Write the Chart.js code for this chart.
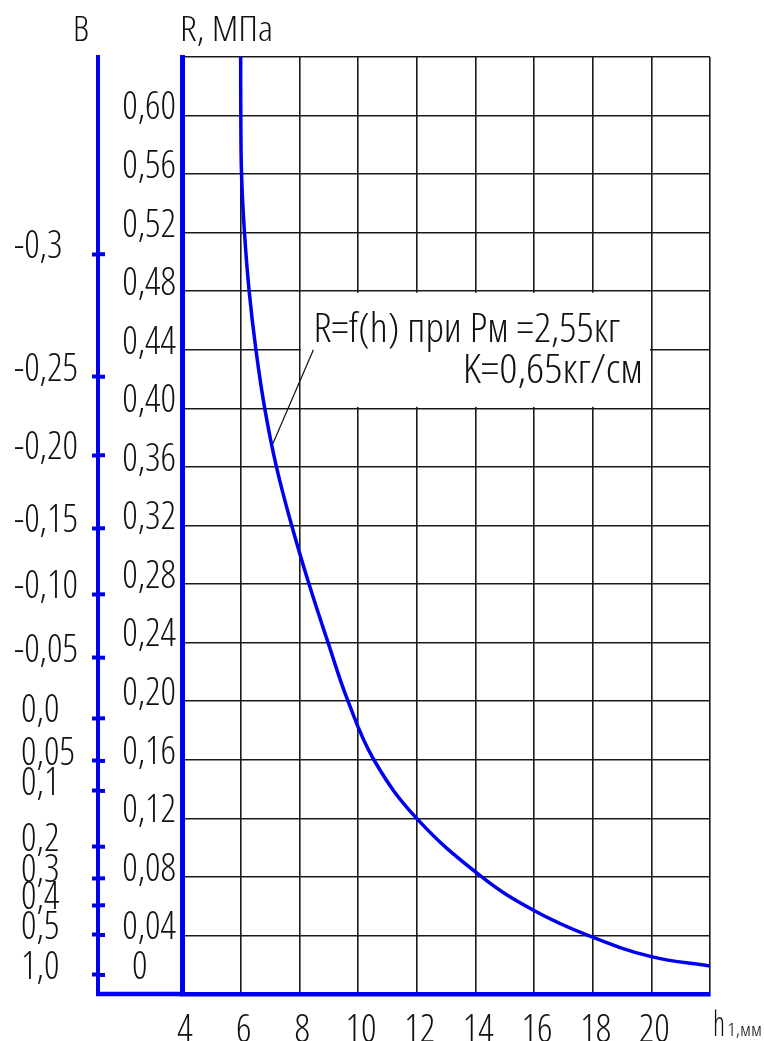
<!DOCTYPE html>
<html><head><meta charset="utf-8">
<script src="https://cdn.jsdelivr.net/npm/chart.js@4"></script>
<style>html,body{margin:0;padding:0;background:#fff;}#wrap{width:764px;height:1041px;}</style>
</head><body><div id="wrap"><canvas id="c" width="764" height="1041"></canvas></div>
<script>
// ---- data ----
const hValues = [6.00, 6.005, 6.03, 6.13, 6.29, 6.52, 6.82, 7.22, 7.74, 8.33, 8.98, 9.66, 10.54, 12.0, 14.22, 16.0, 17.84, 20.0, 22.0];
const rValues = [0.64, 0.60, 0.56, 0.52, 0.48, 0.44, 0.40, 0.36, 0.32, 0.28, 0.24, 0.20, 0.16, 0.12, 0.08, 0.057, 0.04, 0.0255, 0.0191];
const xTickLabels = ['4', '6', '8', '10', '12', '14', '16', '18', '20', ''];
const rTickLabels = ['0', '0,04', '0,08', '0,12', '0,16', '0,20', '0,24', '0,28', '0,32', '0,36', '0,40', '0,44', '0,48', '0,52', '0,56', '0,60', ''];
// B scale: position of each B mark expressed on the R scale
const bTickPositions = [0.0130, 0.0403, 0.0606, 0.0790, 0.1006, 0.1387, 0.1592, 0.1883, 0.2297, 0.2730, 0.3181, 0.3680, 0.4216, 0.5053];
const bTickLabels = ['1,0', '0,5', '0,4', '0,3', '0,2', '0,1', '0,05', '0,0', '-0,05', '-0,10', '-0,15', '-0,20', '-0,25', '-0,3'];
const leaderH = [8.48, 7.10];
const leaderR = [0.440, 0.376];
const noteLine1 = 'R=f(h) при Рм =2,55кг';
const noteLine2 = 'K=0,65кг/см';

// ---- styling ----
const FAMILY = "'Open Sans'";
const WEIGHT = '300 condensed';
const BLUE = '#0000ee';
const INK = '#111111';
const tickFont = {family: FAMILY, size: 38, weight: WEIGHT, lineHeight: 1.0};

function drawFitted(ctx, text, x1, x2, baseline, size) {
  ctx.save();
  ctx.font = WEIGHT + ' ' + size + 'px ' + FAMILY;
  ctx.fillStyle = INK;
  ctx.textAlign = 'left';
  ctx.textBaseline = 'alphabetic';
  const w = ctx.measureText(text).width;
  ctx.translate(x1, baseline);
  ctx.scale((x2 - x1) / w, 1);
  ctx.fillText(text, 0, 0);
  ctx.restore();
}

const extras = {
  id: 'extras',
  beforeDatasetsDraw(chart) {
    const {ctx, scales: {x, y}} = chart;
    const l = x.getPixelForValue(8), r = x.getPixelForValue(20);
    const t = y.getPixelForValue(0.48), b = y.getPixelForValue(0.40);
    ctx.save();
    ctx.fillStyle = '#ffffff';
    ctx.fillRect(l + 1.5, t + 1.5, r - l - 3, b - t - 3);
    ctx.restore();
  },
  afterDraw(chart) {
    const {ctx, chartArea, scales: {x, y, yB}} = chart;
    ctx.save();
    ctx.strokeStyle = BLUE;
    ctx.lineWidth = 4.5;
    ctx.beginPath();
    ctx.moveTo(yB.right - 2, chartArea.bottom);
    ctx.lineTo(chartArea.left, chartArea.bottom);
    ctx.stroke();
    // short blue stubs to the right of the B axis, continuing its tick marks
    ctx.lineWidth = 4;
    bTickPositions.forEach(v => {
      const py = yB.getPixelForValue(v);
      ctx.beginPath();
      ctx.moveTo(yB.right, py);
      ctx.lineTo(yB.right + 7, py);
      ctx.stroke();
    });
    ctx.restore();
    drawFitted(ctx, 'B', yB.right - 25, yB.right - 9, 41, 34);
    drawFitted(ctx, 'R, МПа', chartArea.left - 2, chartArea.left + 91, 41, 34);
    const hx = chartArea.right + 3;
    drawFitted(ctx, 'h', hx, hx + 12, 1036, 34);
    drawFitted(ctx, '1,мм', hx + 14, 762, 1036, 18);
    drawFitted(ctx, noteLine1, x.getPixelForValue(8.48), x.getPixelForValue(18.93), y.getPixelForValue(0.4456), 41);
    drawFitted(ctx, noteLine2, x.getPixelForValue(13.57), x.getPixelForValue(19.72), y.getPixelForValue(0.417), 41);
  }
};

new Chart(document.getElementById('c'), {
  type: 'scatter',
  data: {
    datasets: [
      {
        data: hValues.map((h, i) => ({x: h, y: rValues[i]})),
        showLine: true,
        borderColor: BLUE,
        borderWidth: 3.5,
        pointRadius: 0,
        tension: 0.4,
        fill: false
      },
      {
        data: leaderH.map((h, i) => ({x: h, y: leaderR[i]})),
        showLine: true,
        borderColor: INK,
        borderWidth: 1.2,
        pointRadius: 0,
        fill: false
      }
    ]
  },
  plugins: [extras],
  options: {
    responsive: false,
    animation: false,
    devicePixelRatio: 1,
    layout: {padding: {left: 14, right: 54, top: 57, bottom: 0}},
    plugins: {legend: {display: false}, tooltip: {enabled: false}},
    scales: {
      x: {
        type: 'linear', position: 'bottom', min: 4, max: 22,
        afterFit: s => { s.height = 47; },
        ticks: {
          stepSize: 2, autoSkip: false, maxRotation: 0, padding: 18, labelOffset: 3,
          color: INK, font: tickFont,
          callback: (v, i) => xTickLabels[i]
        },
        grid: {
          drawTicks: false, lineWidth: 1.6,
          color: c => (c.tick && c.tick.value === 4) ? 'rgba(0,0,0,0)' : '#1a1a1a'
        },
        border: {display: true, color: BLUE, width: 4.5}
      },
      y: {
        type: 'linear', position: 'left', min: 0, max: 0.64, weight: 0,
        afterFit: s => { s.width = 84; },
        ticks: {
          stepSize: 0.04, autoSkip: false, padding: 6, labelOffset: -7, crossAlign: 'near',
          color: INK, font: tickFont,
          callback: (v, i) => rTickLabels[i] === '0' ? ['0    ', ''] : rTickLabels[i]
        },
        grid: {
          drawTicks: false, lineWidth: 1.6,
          color: c => (c.tick && c.tick.value === 0) ? 'rgba(0,0,0,0)' : '#1a1a1a'
        },
        border: {display: true, color: BLUE, width: 5}
      },
      yB: {
        type: 'linear', position: 'left', min: 0, max: 0.64, weight: 1,
        afterFit: s => { s.width = 84; },
        afterBuildTicks: s => { s.ticks = bTickPositions.map(v => ({value: v})); },
        ticks: {
          autoSkip: false, padding: 4, labelOffset: -7, crossAlign: 'far',
          color: INK, font: tickFont,
          callback: (v, i) => (bTickLabels[i].startsWith('-') ? '' : ' ') + bTickLabels[i]
        },
        grid: {
          drawOnChartArea: false, drawTicks: true, tickLength: 6, tickWidth: 4, tickColor: BLUE
        },
        border: {display: true, color: BLUE, width: 4}
      }
    }
  }
});
</script>
</body></html>
